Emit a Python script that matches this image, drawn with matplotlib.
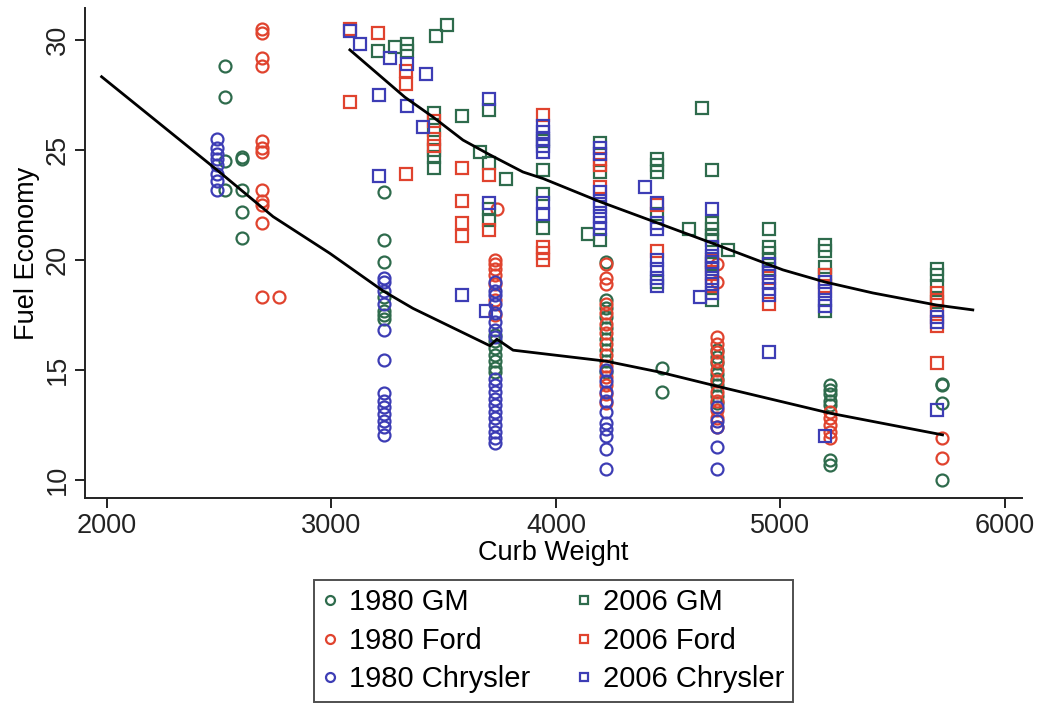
import matplotlib.pyplot as plt

plt.rcParams['font.family'] = ['Liberation Sans', 'DejaVu Sans']

# (curb weight, [fuel economy values])
gm80 = [
    (2525, [28.8, 27.4, 24.5, 23.2]),
    (2600, [24.7, 24.6, 23.2, 22.2, 21.0]),
    (3234, [23.1, 20.9, 19.9, 18.3, 17.7, 17.5, 17.3]),
    (3728, [16.6, 16.3, 16.0, 15.7, 15.4, 15.1, 14.9]),
    (4223, [19.9, 18.2, 17.8, 17.4, 16.9, 16.4, 15.9, 15.4, 14.9]),
    (4472, [15.1, 14.0]),
    (4717, [15.9, 15.6, 15.3, 14.8, 14.6, 14.3, 13.8, 13.5]),
    (5220, [14.3, 14.1, 13.9, 13.6, 13.4, 10.9, 10.7]),
    (5719, [14.35, 14.3, 13.5, 10.0]),
]
ford80 = [
    (2690, [30.5, 30.3, 29.2, 28.8, 25.4, 25.1, 24.9, 23.2, 22.7, 22.5, 21.7, 18.3]),
    (2766, [18.3]),
    (3736, [22.3]),
    (3728, [20.0, 19.8, 19.6, 19.3, 18.9, 18.2, 17.5]),
    (4223, [19.8, 19.2, 18.9, 18.0, 17.6, 17.1, 16.7, 16.2, 15.7, 15.2, 14.7, 14.3, 13.9, 13.5]),
    (4717, [19.8, 19.0, 16.5, 16.2, 15.8, 15.4, 15.0, 14.5, 14.0, 13.6, 13.2, 12.8, 12.4]),
    (5220, [13.1, 12.8, 12.5, 12.2, 11.9]),
    (5719, [11.9, 11.0]),
]
chry80 = [
    (2490, [25.5, 25.1, 24.8, 24.6, 24.3, 23.9, 23.6, 23.2]),
    (3234, [19.2, 19.0, 18.6, 18.0, 16.8, 15.45, 13.95, 13.6, 13.3, 13.0, 12.7, 12.4, 12.05]),
    (3728, [19.0, 18.6, 18.4, 18.0, 17.6, 17.2, 16.8, 16.5, 14.6, 14.3, 14.0, 13.7,
            13.4, 13.1, 12.8, 12.5, 12.2, 11.9, 11.7]),
    (4223, [15.0, 14.5, 14.0, 13.6, 13.1, 12.6, 12.3, 12.0, 11.4, 10.5]),
    (4717, [13.3, 12.7, 12.4, 11.5, 10.5]),
]
gm06 = [
    (3207, [29.5]),
    (3283, [29.7]),
    (3335, [29.8, 29.5]),
    (3457, [26.7, 25.9, 25.0, 24.7, 24.2]),
    (3466, [30.2]),
    (3513, [30.7]),
    (3580, [26.55]),
    (3660, [24.9]),
    (3703, [26.8, 24.4, 22.3, 21.8]),
    (3776, [23.7]),
    (3943, [25.4, 24.1, 23.0, 21.45]),
    (4142, [21.2]),
    (4196, [25.3, 24.0, 20.9]),
    (4450, [24.6, 24.3, 24.0, 22.1, 19.0]),
    (4593, [21.4]),
    (4649, [26.9]),
    (4697, [24.1, 21.7, 21.4, 21.1, 20.9, 19.8, 18.2]),
    (4766, [20.45]),
    (4948, [21.4, 20.6, 20.3, 20.0, 19.6]),
    (5198, [20.7, 20.4, 19.7, 19.3, 17.7]),
    (5696, [19.6, 19.3, 18.8, 18.1]),
]
ford06 = [
    (3082, [30.5, 27.2]),
    (3207, [30.3]),
    (3332, [28.6, 28.0, 23.9]),
    (3457, [26.3, 25.5, 25.2]),
    (3580, [24.2, 22.7, 21.7, 21.1]),
    (3703, [23.85, 21.35]),
    (3943, [26.6, 20.6, 20.3, 20.0]),
    (4196, [24.6, 24.3, 23.3]),
    (4450, [22.5, 20.4]),
    (4697, [20.0, 19.4, 18.8]),
    (4948, [19.2, 18.0]),
    (5198, [19.3, 18.8]),
    (5696, [18.5, 18.2, 17.7, 17.0, 15.3]),
]
chry06 = [
    (3082, [30.4]),
    (3127, [29.8]),
    (3212, [27.5, 23.8]),
    (3261, [29.2]),
    (3335, [28.9, 27.0]),
    (3406, [26.05]),
    (3421, [28.45]),
    (3580, [18.4]),
    (3690, [17.7]),
    (3703, [27.3, 22.6]),
    (3943, [26.1, 25.8, 25.5, 25.2, 24.9, 22.6, 22.1]),
    (4196, [25.1, 24.8, 23.1, 22.7, 22.4, 22.0, 21.7, 21.4]),
    (4396, [23.3]),
    (4450, [22.6, 21.7, 21.4, 20.0, 19.6, 19.2, 18.8]),
    (4641, [18.3]),
    (4697, [22.3, 20.6, 20.2, 19.9, 19.6, 19.2, 18.9, 18.5]),
    (4948, [19.8, 19.4, 19.0, 18.7, 18.4, 15.8]),
    (5198, [19.0, 18.6, 18.2, 17.9, 12.0]),
    (5696, [17.4, 17.2, 13.2]),
]

# smoothed fit lines
fit80_x = [1976, 2489, 2740, 2993, 3229, 3363, 3706, 3737, 3809, 4223, 4463, 4726, 5223, 5722]
fit80_y = [28.33, 24.1, 21.97, 20.3, 18.6, 17.8, 16.1, 16.4, 15.9, 15.4, 14.9, 14.24, 13.03, 12.05]
fit06_x = [3082, 3327, 3452, 3586, 3702, 3853, 3943, 4196, 4448, 4697, 5011, 5198, 5412, 5696, 5857]
fit06_y = [29.55, 27.4, 26.5, 25.45, 24.8, 24.0, 23.7, 22.65, 21.7, 20.76, 19.55, 19.0, 18.5, 17.95, 17.73]

GREEN = '#2e6b4c'
RED = '#e0432e'
BLUE = '#3d3db5'

series = [
    (gm80, 'o', GREEN, '1980 GM'),
    (ford80, 'o', RED, '1980 Ford'),
    (chry80, 'o', BLUE, '1980 Chrysler'),
    (gm06, 's', GREEN, '2006 GM'),
    (ford06, 's', RED, '2006 Ford'),
    (chry06, 's', BLUE, '2006 Chrysler'),
]


def expand(groups):
    xs, ys = [], []
    for w, vals in groups:
        for v in vals:
            xs.append(w)
            ys.append(v)
    return xs, ys


fig = plt.figure(figsize=(10.39, 7.10), dpi=100)
ax = fig.add_axes([0.0818, 0.2986, 0.9018, 0.69])

handles = []
for groups, mk, col, lab in series:
    xs, ys = expand(groups)
    h, = ax.plot(xs, ys, linestyle='none', marker=mk, ms=8.6, mfc='none',
                 mec=col, mew=1.6, label=lab)
    handles.append(h)

ax.plot(fit80_x, fit80_y, color='black', lw=2)
ax.plot(fit06_x, fit06_y, color='black', lw=2)

ax.set_xlim(1902, 6076)
ax.set_ylim(9.18, 31.45)
ax.set_xticks([2000, 3000, 4000, 5000, 6000])
ax.set_yticks([10, 15, 20, 25, 30])
for sp in ['top', 'right']:
    ax.spines[sp].set_visible(False)
for sp in ['left', 'bottom']:
    ax.spines[sp].set_linewidth(1.4)
    ax.spines[sp].set_color('#222222')
ax.tick_params(direction='out', length=7, width=1.4, labelsize=19.5, colors='#222222')
ax.tick_params(axis='y', pad=3)
for lbl in ax.get_yticklabels():
    lbl.set_rotation(90)
    lbl.set_va('center')
ax.set_xlabel('Curb Weight', fontsize=19.5, labelpad=1)
ax.set_ylabel('Fuel Economy', fontsize=19.5, labelpad=4)

leg = fig.legend(handles=handles, loc='lower center', bbox_to_anchor=(0.533, 0.003),
                 ncol=2, fontsize=21, frameon=True, fancybox=False,
                 edgecolor='#222222', markerscale=0.75, handlelength=0.5,
                 handletextpad=0.4, columnspacing=1.6, labelspacing=0.36,
                 borderpad=0.3, borderaxespad=0.2)
leg.get_frame().set_linewidth(1.4)

fig.savefig('out.png', dpi=100)
